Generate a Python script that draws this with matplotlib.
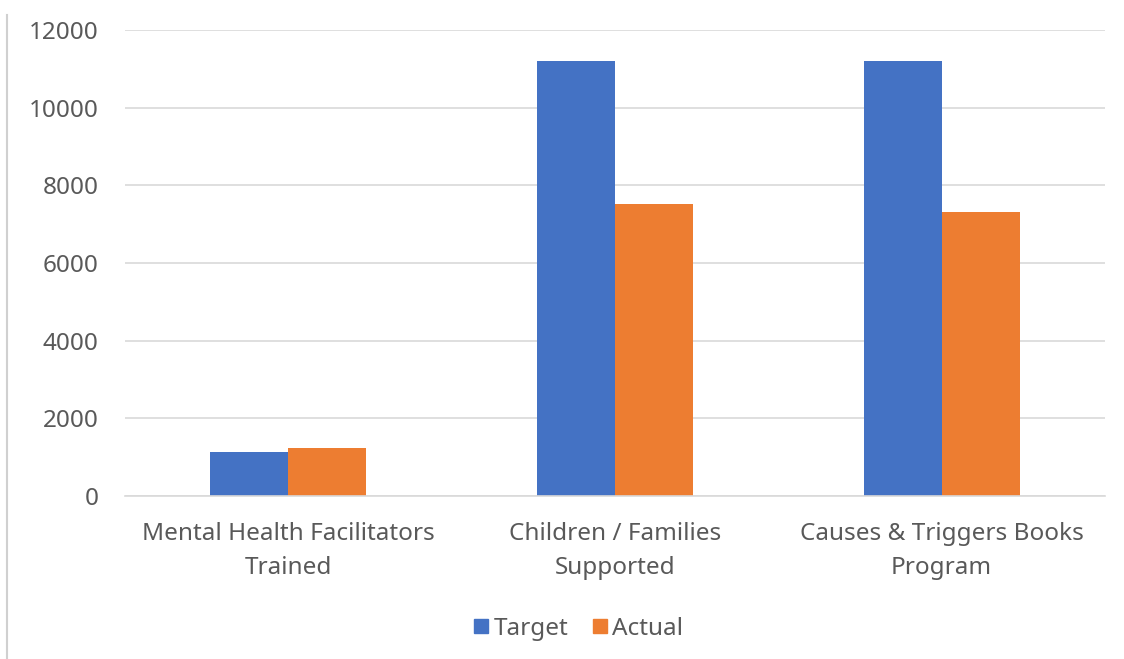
import matplotlib.pyplot as plt
import numpy as np
from matplotlib.lines import Line2D

categories = ['Mental Health Facilitators\nTrained', 'Children / Families\nSupported',
              'Causes & Triggers Books\nProgram']
target = [1125, 11200, 11200]
actual = [1240, 7510, 7320]
y_ticks = [0, 2000, 4000, 6000, 8000, 10000, 12000]

blue = '#4472C4'
orange = '#ED7D31'
text_color = '#595959'
plt.rcParams['font.family'] = ['Noto Sans', 'DejaVu Sans']

fig = plt.figure(figsize=(11.24, 6.59), dpi=100)
ax = fig.add_axes([125 / 1124, 1 - 496 / 659, 980 / 1124, 466 / 659])

x = np.arange(len(categories))
width = 0.239
ax.bar(x - width / 2, target, width, color=blue, label='Target')
ax.bar(x + width / 2, actual, width, color=orange, label='Actual')

ax.set_xlim(-0.5, 2.5)
ax.set_ylim(0, 12000)
ax.set_yticks(y_ticks)
ax.set_yticklabels([str(v) for v in y_ticks], fontsize=17.5, color=text_color)
ax.set_xticks(x)
ax.set_xticklabels(categories, fontsize=17.5, color=text_color, linespacing=1.55)
ax.tick_params(axis='both', length=0)
ax.tick_params(axis='y', pad=19)
ax.tick_params(axis='x', pad=19)

ax.grid(axis='y', color='#D9D9D9', linewidth=1.2)
ax.set_axisbelow(True)
for side in ['top', 'right', 'left']:
    ax.spines[side].set_visible(False)
ax.spines['bottom'].set_color('#D9D9D9')
ax.spines['bottom'].set_linewidth(1.2)

# legend
handles = [Line2D([], [], marker='s', linestyle='', color=blue, markersize=10),
           Line2D([], [], marker='s', linestyle='', color=orange, markersize=10)]
fig.legend(handles, ['Target', 'Actual'], loc='center', bbox_to_anchor=(576 / 1124, 1 - 629 / 659),
           ncol=2, frameon=False, fontsize=17.5, labelcolor=text_color,
           handletextpad=0.0, columnspacing=0.8, handlelength=1.0)

# left border line
fig.add_artist(Line2D([7 / 1124, 7 / 1124], [0, 1 - 15 / 659], color='#D0D0D0', linewidth=1.5))

fig.savefig('out.png', dpi=100)
